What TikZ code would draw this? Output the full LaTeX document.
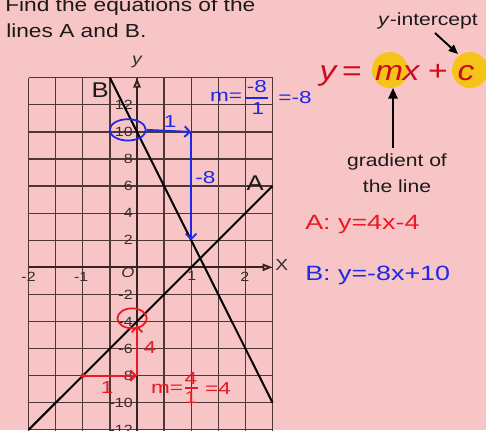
\documentclass[tikz,border=0pt]{standalone}
\usepackage{fontspec}
\setmainfont{Liberation Sans}[FakeStretch=1.2]
\newfontfamily\hand{Liberation Sans}[FakeStretch=1.3]
\usetikzlibrary{arrows.meta,shapes.geometric}
\definecolor{bg}{RGB}{247,197,197}
\definecolor{gridc}{RGB}{80,55,55}
\definecolor{axisc}{RGB}{55,35,35}
\definecolor{tickc}{RGB}{55,45,45}
\definecolor{hblue}{RGB}{30,40,230}
\definecolor{hred}{RGB}{235,25,35}
\definecolor{eqred}{RGB}{205,10,30}
\definecolor{gold}{RGB}{246,196,24}
\definecolor{txt}{RGB}{30,25,25}
\begin{document}
\begin{tikzpicture}[x=0.75pt,y=-0.75pt,
  gridline/.style={draw=gridc, line width=0.95pt},
  axisline/.style={draw=axisc, line width=1.4pt, -{Triangle[length=7.5pt,width=5.5pt,fill=bg]}},
  graphline/.style={draw=black, line width=1.5pt},
  ticklbl/.style={font=\fontsize{10}{11}\selectfont, text=tickc, inner sep=0pt},
  biglbl/.style={font=\fontsize{16}{18}\selectfont, text=txt, inner sep=0pt},
  blab/.style={text=hblue, font=\hand\fontsize{13}{15}\selectfont, inner sep=0pt},
  rlab/.style={text=hred, font=\hand\fontsize{13}{15}\selectfont, inner sep=0pt},
  barrow/.style={draw=hblue, line width=1.4pt, -{Straight Barb[length=4pt,width=8pt]}},
  rarrow/.style={draw=hred, line width=1.4pt, -{Straight Barb[length=4pt,width=8pt]}},
  eqtxt/.style={text=eqred, font=\fontsize{21}{24}\selectfont, inner sep=0pt, anchor=base},
  note/.style={text=txt, font=\fontsize{13.2}{15}\selectfont, inner sep=0pt},
]
\fill[bg] (0,0) rectangle (486,430);
\useasboundingbox (0,0) rectangle (486,430);

% title
\node[note, font=\fontsize{14.2}{17}\selectfont, anchor=base west] (t1) at (5,11) {Find the equations of the};
\node[note, font=\fontsize{14.2}{17}\selectfont, anchor=base west] (t2) at (6,37) {lines A and B.};

% graph (scope units: 1 = one unit of x or y)
\begin{scope}[shift={(137,267.3)}, x=40.65pt, y=10.155pt]
  \foreach \i in {-2,-1.5,-1,-0.5,0,0.5,1,1.5,2,2.5} \draw[gridline] (\i,-12.5) -- (\i,14);
  \foreach \j in {-12,-10,-8,-6,-4,-2,0,2,4,6,8,10,12,14} \draw[gridline] (-2,\j) -- (2.5,\j);
  \coordinate (ybot) at (0,-12.5);
  \coordinate (ytop) at (0,14);
  \coordinate (xleft) at (-2,0);
  \coordinate (xright) at (2.5,0);
  \draw[axisline] (ybot) -- (ytop);
  \draw[axisline] (xleft) -- (xright);
  \node[text=tickc, font=\fontsize{12}{14}\selectfont\itshape, inner sep=0pt] (ylab) at (0,15.15) {y};
  \node[text=tickc, font=\fontsize{12}{14}\selectfont, inner sep=0pt] (xlab) at (2.67,0.2) {X};
  \foreach \v/\k in {12/a,10/b,8/c,6/d,4/e,2/f,-2/g,-4/h,-6/i,-8/j,-10/k,-12/l}
    \node[ticklbl, anchor=east] (yt\k) at (-0.074,\v) {\v};
  \node[ticklbl] (xma) at (-2,-0.72) {-2};
  \node[ticklbl] (xmb) at (-1.03,-0.72) {-1};
  \node[ticklbl] (xpa) at (1.01,-0.6) {1};
  \node[ticklbl] (xpb) at (1.99,-0.72) {2};
  \node[ticklbl, font=\fontsize{10.5}{11}\selectfont\itshape] (orig) at (-0.17,-0.42) {O};
  % lines
  \coordinate (Btop) at (-0.5,14);
  \coordinate (Bbot) at (2.5,-10);
  \coordinate (Abot) at (-2,-12);
  \coordinate (Atop) at (2.5,6);
  \draw[graphline] (Btop) -- (Bbot);
  \draw[graphline] (Abot) -- (Atop);
  \node[biglbl] (Blab) at (-0.68,13.1) {B};
  \node[biglbl] (Alab) at (2.18,6.25) {A};
  % blue annotations
  \node[draw=hblue, line width=1.3pt, ellipse, minimum width=27pt, minimum height=16pt, inner sep=0pt] (cten) at (-0.17,10.15) {};
  \coordinate (bcorner) at (1,10);
  \coordinate (bend) at (1,2);
  \draw[barrow] (cten.east) -- (bcorner);
  \draw[barrow] (bcorner) -- (bend);
  \node[blab] (bone) at (0.61,10.75) {1};
  \node[blab] (bmeight) at (1.26,6.6) {-8};
  % red annotations
  \node[draw=hred, line width=1.3pt, ellipse, minimum width=22pt, minimum height=15pt, inner sep=0pt] (cfour) at (-0.09,-3.77) {};
  \coordinate (rdot) at (-1,-8);
  \coordinate (rcorner) at (0,-8);
  \coordinate (rend) at (0,-4.3);
  \fill[hred] (rdot) circle (1.8pt);
  \draw[rarrow] (rdot) -- (rcorner);
  \draw[rarrow] (rcorner) -- (rend);
  \node[rlab] (rone) at (-0.55,-8.9) {1};
  \node[rlab] (rfour) at (0.24,-5.9) {4};
\end{scope}

% blue gradient
\node[blab] (bm) at (226,97) {m=};
\node[blab] (bnum) at (257,87) {-8};
\coordinate (bbarl) at (245,98);
\coordinate (bbarr) at (268,98);
\draw[hblue, line width=1.3pt] (bbarl) -- (bbarr);
\node[blab] (bden) at (258,109) {1};
\node[blab] (beq) at (295,98) {=-8};
% red gradient
\node[rlab] (rm) at (167,389) {m=};
\node[rlab] (rnum) at (191,379) {4};
\coordinate (rbarl) at (185,388);
\coordinate (rbarr) at (198,388);
\draw[hred, line width=1.3pt] (rbarl) -- (rbarr);
\node[rlab] (rden) at (191,398) {1};
\node[rlab] (req) at (218,389) {=4};

% y = mx + c
\fill[gold] (390,70) circle (13.5pt);
\fill[gold] (470,70) circle (13.5pt);
\node[eqtxt] (ey) at (328,80) {\itshape y};
\node[eqtxt] (eeq) at (352,80) {=};
\node[eqtxt] (em) at (389,80) {\itshape m};
\node[eqtxt] (ex) at (411,80) {\itshape x};
\node[eqtxt] (eplus) at (438,80) {+};
\node[eqtxt] (ec) at (466,80) {\itshape c};

\node[note] (yint) at (428,21) {\textit{y}-intercept};
\coordinate (yia) at (435,33);
\coordinate (yib) at (458,54);
\draw[line width=1.4pt, -{Triangle[length=7pt,width=6pt]}] (yia) -- (yib);

\node[note] (gradone) at (397,162) {gradient of};
\node[note] (gradtwo) at (397,186) {the line};
\coordinate (ga) at (393,148);
\coordinate (gb) at (393,88);
\draw[line width=1.5pt, -{Triangle[length=8pt,width=7pt]}] (ga) -- (gb);

\node[text=hred, font=\hand\fontsize{15.5}{18}\selectfont, inner sep=0pt, anchor=west] (eqA) at (305,225) {A: y=4x-4};
\node[text=hblue, font=\hand\fontsize{15.5}{18}\selectfont, inner sep=0pt, anchor=west] (eqB) at (305,275) {B: y=-8x+10};
\end{tikzpicture}
\end{document}
